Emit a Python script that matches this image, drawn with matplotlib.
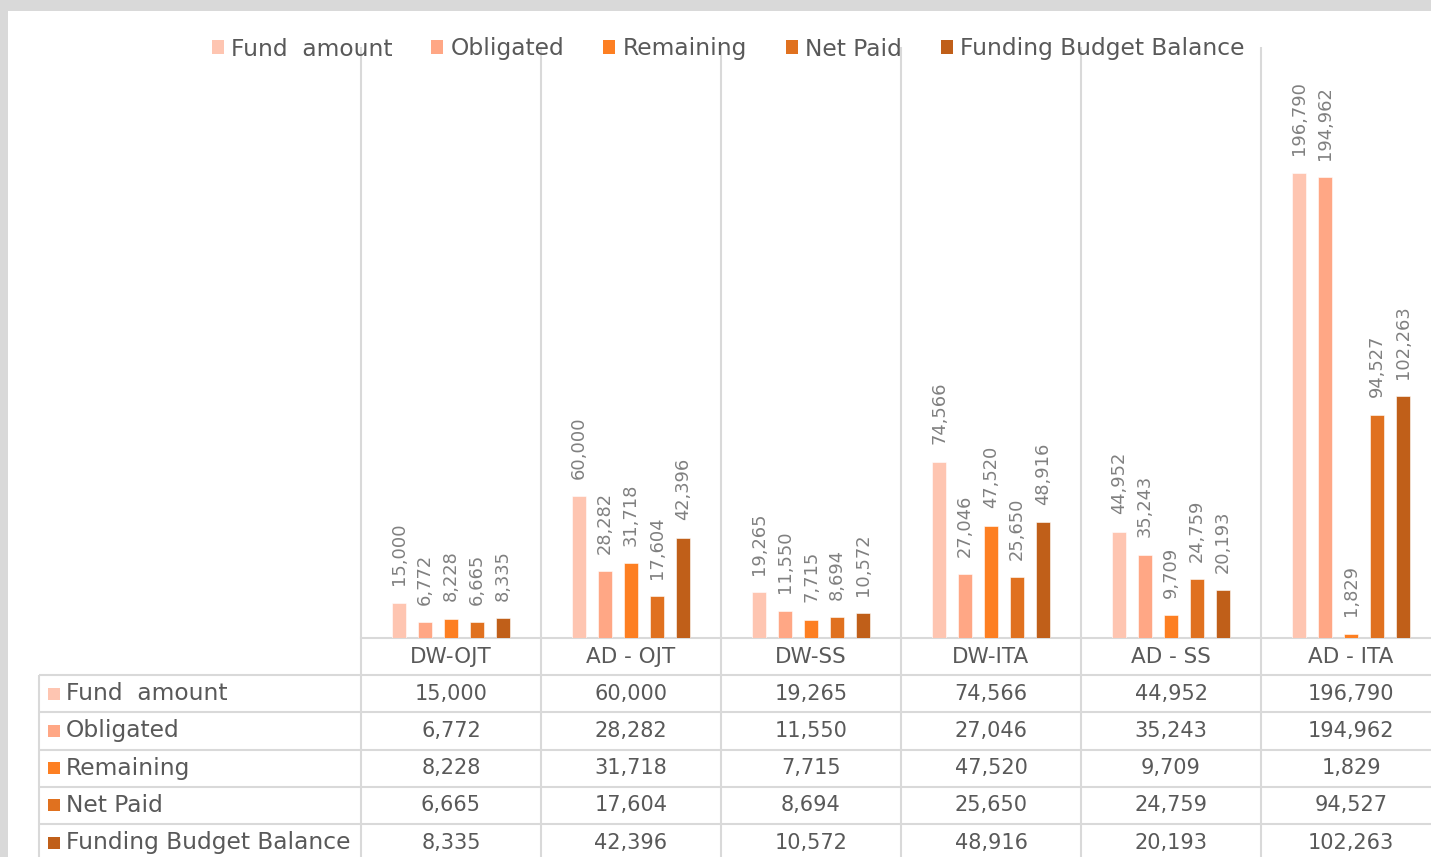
import matplotlib
matplotlib.use('Agg')
import matplotlib.pyplot as plt
from matplotlib.patches import Patch, Rectangle
import numpy as np

W, H = 1431, 857

categories = ['DW-OJT', 'AD - OJT', 'DW-SS', 'DW-ITA', 'AD - SS', 'AD - ITA']
series_names = ['Fund  amount', 'Obligated', 'Remaining', 'Net Paid', 'Funding Budget Balance']
fund_amount = [15000, 60000, 19265, 74566, 44952, 196790]
obligated = [6772, 28282, 11550, 27046, 35243, 194962]
remaining = [8228, 31718, 7715, 47520, 9709, 1829]
net_paid = [6665, 17604, 8694, 25650, 24759, 94527]
budget_balance = [8335, 42396, 10572, 48916, 20193, 102263]
series_values = [fund_amount, obligated, remaining, net_paid, budget_balance]

COLORS = ['#FEC5B1', '#FFA785', '#FD7F22', '#E0711F', '#C05F19']
TEXT = '#595959'
LABEL = '#808080'
GRID = '#D9D9D9'
FONT = 'DejaVu Sans'

plt.rcParams['font.family'] = FONT


def fx(px):
    return px / W


def fy(py):
    return 1 - py / H


fig = plt.figure(figsize=(W / 100, H / 100), dpi=100)
fig.patch.set_facecolor(GRID)
fig.patches.append(Rectangle((fx(8), 0), 1, fy(11), transform=fig.transFigure,
                             facecolor='white', edgecolor='none', zorder=-5))

# bar area
ymax = 250000
ax = fig.add_axes([fx(361), fy(638), fx(1080), (638 - 47) / H])
ax.set_xlim(0, 6)
ax.set_ylim(0, ymax)
ax.axis('off')
ax.vlines(range(7), 0, ymax, color=GRID, lw=1.5, zorder=1, clip_on=False)
ax.axhline(0, color=GRID, lw=1.5, zorder=1, clip_on=False)

x = np.arange(len(categories)) + 0.5
step, width = 0.1444, 0.078
for k, (vals, color) in enumerate(zip(series_values, COLORS)):
    xs = x + (k - 2) * step
    ax.bar(xs, vals, width=width, color=color, edgecolor='white',
           linewidth=0.4, zorder=2)
    for xi, v in zip(xs, vals):
        ax.annotate(f'{v:,}', (xi, v), xytext=(0, 12.5), textcoords='offset points',
                    rotation=90, ha='center', va='bottom', fontsize=12.9,
                    color=LABEL, annotation_clip=False)

# data table
row_h = 37.2
tab = fig.add_axes([fx(39), fy(638 + 6 * row_h), fx(1441 - 39), 6 * row_h / H])
x0 = (39 - 361) / 180
tab.set_xlim(x0, 6)
tab.set_ylim(6, 0)
tab.axis('off')
tab.hlines(range(1, 6), x0, 6, color=GRID, lw=1.5, clip_on=False)
tab.vlines(range(7), 0, 6, color=GRID, lw=1.5, clip_on=False)
tab.vlines(x0, 1, 6, color=GRID, lw=1.5, clip_on=False)

for i, cat in enumerate(categories):
    tab.text(i + 0.5, 0.5, cat, ha='center', va='center', fontsize=15.5, color=TEXT)

for r, (name, vals, color) in enumerate(zip(series_names, series_values, COLORS)):
    yr = r + 1.5
    tab.plot([(54 - 361) / 180], [yr], marker='s', ms=8.6, mew=0, color=color,
             clip_on=False)
    tab.text((66 - 361) / 180, yr, name, ha='left', va='center', fontsize=16.8,
             color=TEXT)
    for i, v in enumerate(vals):
        tab.text(i + 0.5, yr, f'{v:,}', ha='center', va='center', fontsize=15,
                 color=TEXT)

handles = [Patch(facecolor=c, edgecolor='none') for c in COLORS]
fig.legend(handles, series_names, loc='center', bbox_to_anchor=(fx(728), fy(49)),
           ncol=5, frameon=False, fontsize=16.8, handlelength=0.52,
           handleheight=0.52, handletextpad=0.3, columnspacing=1.67,
           labelcolor=TEXT, borderpad=0)

fig.savefig('out.png', dpi=100, facecolor=fig.get_facecolor())
